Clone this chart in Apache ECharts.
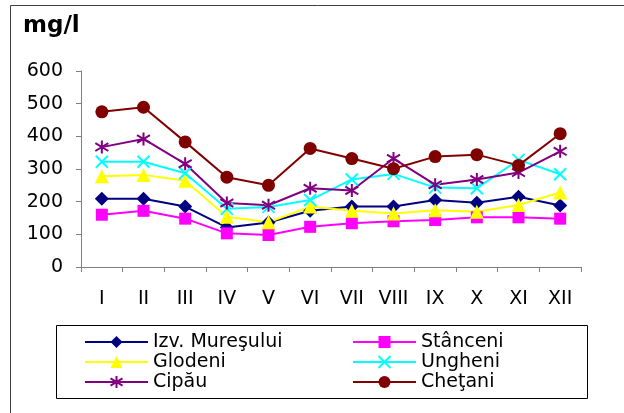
<!DOCTYPE html>
<html>
<head>
<meta charset="utf-8">
<script src="https://cdn.jsdelivr.net/npm/echarts@6/dist/echarts.min.js"></script>
<style>html,body{margin:0;padding:0;background:#fff}#c{width:624px;height:413px}</style>
</head>
<body>
<div id="c"></div>
<script>
const months = ['I','II','III','IV','V','VI','VII','VIII','IX','X','XI','XII'];
const yTicks = [0,100,200,300,400,500,600];
const izvMuresului = [209,209,185,121,136,172,185,185,205,197,215,188];
const stanceni     = [160,172,148,103,98,123,134,140,144,152,152,148];
const glodeni      = [278,282,264,154,137,185,172,164,174,169,190,228];
const ungheni      = [322,322,287,178,184,205,268,285,243,241,328,284];
const cipau        = [367,392,316,196,189,241,234,332,252,268,289,354];
const chetani      = [475,489,383,275,250,363,332,301,338,344,311,408];
const seriesNames  = ['Izv. Mureşului','Stânceni','Glodeni','Ungheni','Cipău','Cheţani'];

const FONT = 'DejaVu Sans';
const XPATH = 'path://M0,0L10,10M10,0L0,10';
const STAR = 'path://M5,0L5,10M0,2L10,8M0,8L10,2';

function mk(name, data, color, symbol, size, stroke) {
  return {
    name, type: 'line', data,
    symbol, symbolSize: size, showSymbol: true,
    lineStyle: { color, width: 2 },
    itemStyle: stroke ? { color: 'rgba(0,0,0,0)', borderColor: color, borderWidth: 2 } : { color },
    emphasis: { disabled: true },
    animation: false
  };
}

const legendCommon = {
  orient: 'vertical', itemWidth: 63, itemHeight: 15, itemGap: 0, padding: 0,
  textStyle: { color: '#000', fontFamily: FONT, fontSize: 19, lineHeight: 20 }, selectedMode: false
};

const chart = echarts.init(document.getElementById('c'), null, { renderer: 'canvas' });
chart.setOption({
  animation: false,
  backgroundColor: '#fff',
  grid: { left: 81, right: 43, top: 71, bottom: 146 },
  graphic: [
    { type: 'rect', z: -10, shape: { x: 10.5, y: 5.5, width: 700, height: 500 }, style: { fill: 'none', stroke: '#404040', lineWidth: 1 } },
    { type: 'rect', z: -10, shape: { x: 56.5, y: 325.5, width: 531, height: 73 }, style: { fill: '#fff', stroke: '#000', lineWidth: 1 } },
    { type: 'text', left: 23, top: 15, style: { text: 'mg/l', font: 'bold 23px "DejaVu Sans"', fill: '#000' } }
  ],
  xAxis: {
    type: 'category', data: months, boundaryGap: true,
    axisLine: { lineStyle: { color: '#808080', width: 1 } },
    axisTick: { show: true, length: 5, lineStyle: { color: '#808080' } },
    axisLabel: { color: '#000', fontFamily: FONT, fontSize: 19, margin: 23, interval: 0 },
    splitLine: { show: false }
  },
  yAxis: {
    type: 'value', min: yTicks[0], max: yTicks[yTicks.length-1], interval: 100,
    axisLine: { show: true, lineStyle: { color: '#808080', width: 1 } },
    axisTick: { show: true, length: 5, lineStyle: { color: '#808080' } },
    axisLabel: { color: '#000', fontFamily: FONT, fontSize: 19, margin: 18 },
    splitLine: { show: false }
  },
  legend: [
    Object.assign({}, legendCommon, { left: 84, top: 332, data: [seriesNames[0], seriesNames[2], seriesNames[4]] }),
    Object.assign({}, legendCommon, { left: 352, top: 332, data: [seriesNames[1], seriesNames[3], seriesNames[5]] })
  ],
  series: [
    mk(seriesNames[0], izvMuresului, '#000080', 'diamond', 14),
    mk(seriesNames[1], stanceni, '#FF00FF', 'rect', 12),
    mk(seriesNames[2], glodeni, '#FFFF00', 'triangle', 14),
    mk(seriesNames[3], ungheni, '#00FFFF', XPATH, 12, true),
    mk(seriesNames[4], cipau, '#800080', STAR, 13, true),
    mk(seriesNames[5], chetani, '#800000', 'circle', 13)
  ]
});
</script>
</body>
</html>
